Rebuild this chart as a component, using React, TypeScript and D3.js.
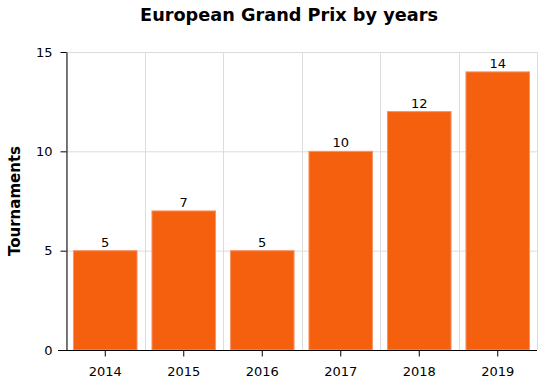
import React, { useEffect, useRef } from "react";
import * as d3 from "d3";

const years = ["2014", "2015", "2016", "2017", "2018", "2019"];
const tournaments = [5, 7, 5, 10, 12, 14];
const yTicks = [0, 5, 10, 15];
const title = "European Grand Prix by years";
const yLabel = "Tournaments";

const W = 546;
const H = 385;
const m = { left: 66, right: 9, top: 52, bottom: 35 };

export default function App() {
  const ref = useRef<SVGSVGElement>(null);
  useEffect(() => {
    const svg = d3.select(ref.current);
    svg.selectAll("*").remove();
    const font = "Verdana, 'DejaVu Sans', sans-serif";
    const x = d3.scaleBand().domain(years).range([m.left, W - m.right]).paddingInner(0.19).paddingOuter(0.095);
    const xb = d3.scaleBand().domain(years).range([m.left, W - m.right]);
    const y = d3.scaleLinear().domain([0, 15]).range([H - m.bottom, m.top]);

    const g = svg.append("g");
    // grid
    g.selectAll("line.hg").data(yTicks).join("line")
      .attr("x1", m.left).attr("x2", W - m.right)
      .attr("y1", d => y(d) + 0.5).attr("y2", d => y(d) + 0.5)
      .attr("stroke", "#dcdcdc").attr("stroke-width", 1);
    const vb = years.map(d => xb(d)!).concat([W - m.right]);
    g.selectAll("line.vg").data(vb).join("line")
      .attr("x1", d => Math.round(d) + 0.5).attr("x2", d => Math.round(d) + 0.5)
      .attr("y1", m.top).attr("y2", H - m.bottom)
      .attr("stroke", "#dcdcdc").attr("stroke-width", 1);

    // bars
    g.selectAll("rect").data(tournaments).join("rect")
      .attr("x", (_, i) => x(years[i])!)
      .attr("width", x.bandwidth())
      .attr("y", d => y(d))
      .attr("height", d => y(0) - y(d))
      .attr("fill", "#f5600f")
      .attr("stroke", "#f8936a").attr("stroke-width", 1);

    // value labels
    g.selectAll("text.v").data(tournaments).join("text")
      .attr("x", (_, i) => x(years[i])! + x.bandwidth() / 2)
      .attr("y", d => y(d) - 4)
      .attr("text-anchor", "middle")
      .attr("font-family", font).attr("font-size", 13).attr("fill", "#000")
      .text(d => String(d));

    // y axis
    const ya = svg.append("g").attr("transform", `translate(${m.left + 0.5},0)`)
      .call(d3.axisLeft(y).tickValues(yTicks).tickSize(6).tickSizeOuter(0).tickPadding(8));
    ya.selectAll("text").attr("font-family", font).attr("font-size", 13).attr("fill", "#000");
    ya.select(".domain").attr("stroke", "#000");
    ya.selectAll(".tick line").attr("stroke", "#000");

    // x axis
    const xa = svg.append("g").attr("transform", `translate(0,${H - m.bottom + 0.5})`)
      .call(d3.axisBottom(xb).tickSize(6).tickSizeOuter(0).tickPadding(10));
    xa.selectAll("text").attr("font-family", font).attr("font-size", 13).attr("fill", "#000");
    xa.select(".domain").attr("stroke", "#000").attr("d", `M${m.left - 8},0H${W - m.right}`);
    xa.selectAll(".tick line").attr("stroke", "#000");

    svg.append("text").attr("x", 289).attr("y", 21).attr("text-anchor", "middle")
      .attr("font-family", font).attr("font-size", 17.7).attr("font-weight", "bold").text(title);

    svg.append("text").attr("transform", `translate(20,${(m.top + H - m.bottom) / 2}) rotate(-90)`)
      .attr("text-anchor", "middle")
      .attr("font-family", font).attr("font-size", 15).attr("font-weight", "bold").text(yLabel);
  }, []);
  return <svg ref={ref} width={W} height={H} style={{ position: "absolute", left: 0, top: 0 }} />;
}
